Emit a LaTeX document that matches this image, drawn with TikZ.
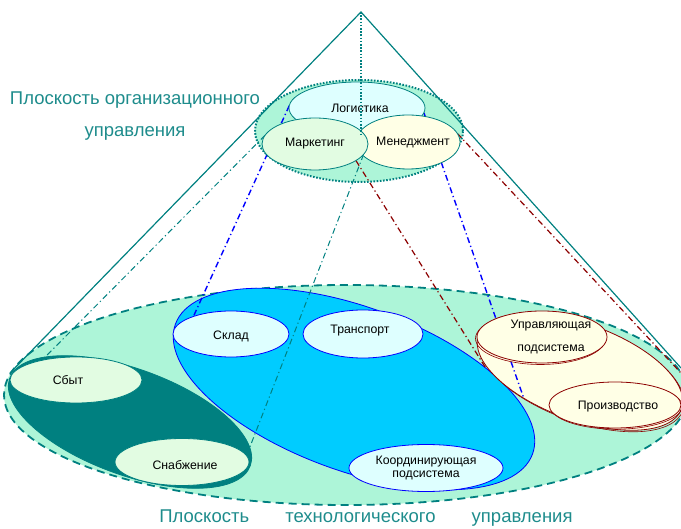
\documentclass[tikz,border=0pt]{standalone}
\usepackage{fontspec}
\setmainfont{Liberation Sans}
\usetikzlibrary{shapes.geometric}
\pgfdeclarelayer{back}
\pgfdeclarelayer{links}
\pgfsetlayers{back,links,main}
\definecolor{mint}{RGB}{173,245,216}
\definecolor{tealc}{RGB}{0,128,128}
\definecolor{skyb}{RGB}{0,204,255}
\definecolor{icecyan}{RGB}{222,255,255}
\definecolor{paleg}{RGB}{226,252,226}
\definecolor{paley}{RGB}{255,255,230}
\definecolor{dred}{RGB}{140,0,0}
\definecolor{txtteal}{RGB}{30,140,140}
\tikzset{
  bub/.style={ellipse, draw, inner sep=0pt, outer sep=0pt, line width=0.8pt},
  rim/.style={preaction={draw=dred, line width=0.6pt, transform canvas={shift={#1}}}},
  lbl/.style={font=\fontsize{12.3}{13}\selectfont, align=center},
  plane/.style={font=\fontsize{18.5}{32}\selectfont, text=txtteal},
  link/.style={line width=1.2pt, dash pattern=on 6pt off 3pt on 1.2pt off 3pt},
}
\begin{document}
\begin{tikzpicture}[x=1pt,y=-1pt]
\useasboundingbox (0,0) rectangle (681,529);

\begin{pgfonlayer}{back}
% technological plane
\node[bub, draw=tealc, fill=mint, line width=1.8pt, dash pattern=on 8pt off 5pt,
      minimum width=684pt, minimum height=220pt] (tech) at (346,395) {};
% sales group
\node[bub, draw=tealc, fill=tealc, rotate=-20, minimum width=256pt, minimum height=106pt] (sales) at (130,422) {};
\node[bub, draw=tealc, fill=paleg, minimum width=132pt, minimum height=46pt,
      label={[lbl, xshift=-8pt]center:Сбыт}] (sbyt) at (76,380) {};
\node[bub, draw=tealc, fill=paleg, minimum width=134pt, minimum height=47pt,
      label={[lbl, xshift=3pt, yshift=-3pt]center:Снабжение}] (snab) at (182,462) {};
% logistics group
\node[bub, draw=blue, fill=skyb, rotate=-20, minimum width=380pt, minimum height=164pt] (blue) at (354,389) {};
\node[bub, draw=blue, fill=icecyan, minimum width=116pt, minimum height=46pt,
      label={[lbl, yshift=-2pt]center:Склад}] (sklad) at (231,334) {};
\node[bub, draw=blue, fill=icecyan, minimum width=120pt, minimum height=48pt,
      label={[lbl, xshift=-3pt, yshift=3pt]center:Транспорт}] (transp) at (363,334) {};
\node[bub, draw=blue, fill=icecyan, minimum width=154pt, minimum height=47pt,
      label={[lbl]center:Координирующая\\подсистема}] (coord) at (426,468) {};
% production group
\node[bub, draw=dred, fill=paley, rim={(1.5pt,-1.5pt)}, rotate=-20, minimum width=216pt, minimum height=96pt] (ugrp) at (580,372) {};
\node[bub, draw=dred, fill=paley, rim={(1.2pt,-1.2pt)}, minimum width=132pt, minimum height=46pt,
      label={[lbl, xshift=3pt, yshift=-2pt]center:Производство}] (prod) at (615,405) {};
% organisational plane
\node[bub, draw=tealc, fill=mint, line width=2pt, dash pattern=on 1.6pt off 1.6pt,
      minimum width=208pt, minimum height=102pt] (top) at (359,131) {};
\end{pgfonlayer}

\node[bub, draw=tealc, fill=icecyan, minimum width=136pt, minimum height=52pt,
      label={[lbl, xshift=3pt]center:Логистика}] (log) at (357,108) {};
\node[bub, draw=tealc, fill=paley, minimum width=104pt, minimum height=54pt,
      label={[lbl, xshift=5pt]center:Менеджмент}] (men) at (408,142) {};
\node[bub, draw=tealc, fill=paleg, minimum width=106pt, minimum height=52pt,
      label={[lbl]center:Маркетинг}] (mark) at (315,144) {};
\node[bub, draw=dred, fill=paley, rim={(-1.5pt,-1.5pt)}, minimum width=130pt, minimum height=52pt,
      label={[lbl, font=\fontsize{12.3}{23}\selectfont, xshift=9pt]center:Управляющая\\подсистема}] (upr) at (542,337) {};

\coordinate (apex) at (361,12);
\coordinate (coneL) at (10,373);
\coordinate (coneR) at (681,368);
\coordinate (rimR) at (681,373);

\begin{pgfonlayer}{links}
% cone
\draw[tealc, line width=1.2pt] (coneL) -- (apex) -- (coneR);
% links between the planes
\draw[link, blue, line width=1.4pt] (log.178) -- (sklad.155);
\draw[link, tealc, line width=1pt] (mark.170) -- (sbyt.150);
\draw[link, tealc, line width=1pt] (mark.-12) -- (sales.8);
\draw[link, dred] (mark.-22) -- (blue.29);
\draw[link, blue, line width=1.4pt] (log.-4) -- (ugrp.225);
\draw[link, dred] (men.10) -- (rimR);
\end{pgfonlayer}

\draw[tealc, line width=1.8pt, dash pattern=on 1.6pt off 1.6pt] (apex) -- ([yshift=-5pt]apex |- top.center);

\node[plane, align=center] (orglbl) at (135,116) {Плоскость организационного\\управления};
\node[plane] (techlbl) at (366,518) {Плоскость\hspace{31pt} технологического\hspace{31pt} управления};
\end{tikzpicture}
\end{document}
